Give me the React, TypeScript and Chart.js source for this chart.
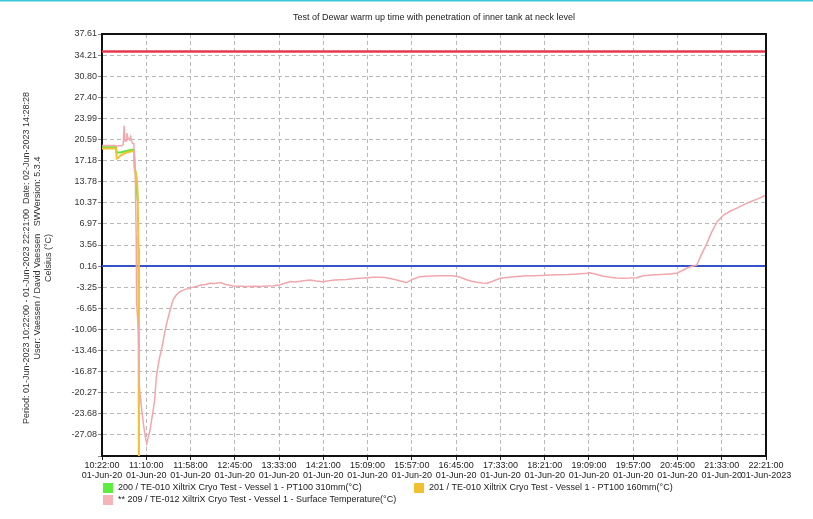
import React, { useEffect, useRef } from "react";
import { Chart, registerables } from "chart.js";

Chart.register(...registerables);

const TITLE = "Test of Dewar warm up time with penetration of inner tank at neck level";
const SIDE_LINES = [
  "Period: 01-Jun-2023 10:22:00 - 01-Jun-2023 22:21:00  Date: 02-Jun-2023 14:28:28",
  "User: Vaessen / David Vaessen   SWVersion: 5.3.4",
  "Celsius (°C)",
];

const TIME_LABELS = [
  "10:22:00", "11:10:00", "11:58:00", "12:45:00", "13:33:00", "14:21:00", "15:09:00", "15:57:00",
  "16:45:00", "17:33:00", "18:21:00", "19:09:00", "19:57:00", "20:45:00", "21:33:00", "22:21:00",
];
const DATE_LABELS = [
  "01-Jun-20", "01-Jun-20", "01-Jun-20", "01-Jun-20", "01-Jun-20", "01-Jun-20", "01-Jun-20", "01-Jun-20",
  "01-Jun-20", "01-Jun-20", "01-Jun-20", "01-Jun-20", "01-Jun-20", "01-Jun-20", "01-Jun-20", "01-Jun-2023",
];
const SPAN_MIN = 719; // minutes from 10:22:00 to 22:21:00

const Y_TICK_LABELS = [
  "37.61", "34.21", "30.80", "27.40", "23.99", "20.59", "17.18", "13.78", "10.37", "6.97",
  "3.56", "0.16", "-3.25", "-6.65", "-10.06", "-13.46", "-16.87", "-20.27", "-23.68", "-27.08",
];
const Y_MIN = -30.49;
const Y_MAX = 37.61;

const HIGH_LIMIT = 34.8;
const LOW_LIMIT = 0.16;

const LABEL_200 = "200 / TE-010 XiltriX Cryo Test - Vessel 1 - PT100 310mm(°C)";
const LABEL_201 = "201 / TE-010 XiltriX Cryo Test - Vessel 1 - PT100 160mm(°C)";
const LABEL_209 = "** 209 / TE-012 XiltriX Cryo Test - Vessel 1 - Surface Temperature(°C)";

// minutes since 10:22:00
const T_200 = [0, 15, 16, 20, 25, 30, 34.5, 35.5, 36.5, 37.5, 38.5, 39];
const V_200 = [19.35, 19.35, 18.5, 18.5, 18.7, 18.85, 18.95, 16.0, 15.2, 12.5, 11.0, 10.6];

const T_201 = [0, 15, 16, 17.5, 20, 25, 30, 34.5, 35.5, 36.5, 37.5, 38.5, 39.5, 40];
const V_201 = [19.15, 19.15, 17.5, 17.6, 18.0, 18.4, 18.6, 18.75, 15.6, 15.2, 14.5, 12.5, 3.0, -45];

const T_209 = [
  0, 14, 16, 22, 23, 24, 25, 26, 27, 28, 29, 30, 31, 32, 33, 34.5,
  36, 37, 37.5, 38.5, 39.5, 40, 40.5, 41.5, 43, 45, 47, 48.5, 50, 52, 55, 57, 59, 62, 65, 68, 70,
  74, 77, 80, 84, 90, 95, 100, 106, 112, 117, 122, 128, 134, 142, 150, 157, 165, 172, 178, 185,
  192, 198, 204, 210, 218, 225, 232, 239, 246, 252, 258, 265, 272, 279, 286, 293, 300, 306, 312,
  318, 324, 330, 336, 344, 351, 358, 366, 373, 380, 387, 394, 400, 406, 412, 417, 423, 431, 438,
  446, 456, 466, 476, 485, 495, 505, 515, 525, 528, 535, 542, 550, 557, 564, 572, 579, 586, 595,
  605, 615, 622, 628, 633, 638, 644, 649, 655, 660, 666, 673, 680, 687, 694, 702, 710, 719,
];
const V_209 = [
  19.6, 19.6, 19.55, 19.6, 19.8, 22.8, 20.3, 20.4, 21.6, 20.8, 20.7, 20.5, 21.0, 20.4, 20.0, 19.9,
  15.0, 5.0, -5.8, -8.0, -10.5, -14.5, -19.3, -21.0, -23.0, -25.5, -27.5, -28.5, -27.5, -26.3, -23.5,
  -21.5, -17.5, -14.8, -12.9, -10.5, -9.1,
  -6.8, -5.3, -4.6, -4.0, -3.6, -3.4, -3.2, -2.95, -2.8, -2.6, -2.65, -2.5, -2.8, -3.05, -3.1, -3.15,
  -3.1, -3.15, -3.05, -3.0,
  -2.9, -2.6, -2.35, -2.4, -2.2, -2.1, -2.25, -2.35, -2.2, -2.1, -2.05, -2.0, -1.9, -1.82, -1.75,
  -1.66, -1.65, -1.7, -1.85,
  -2.05, -2.3, -2.5, -2.0, -1.55, -1.5, -1.44, -1.42, -1.4, -1.39, -1.6, -2.0, -2.3, -2.46, -2.58,
  -2.62, -2.3, -1.82, -1.7,
  -1.55, -1.44, -1.4, -1.35, -1.28, -1.25, -1.2, -1.1, -1.01, -0.91, -1.15, -1.44, -1.65, -1.78,
  -1.82, -1.78, -1.72, -1.39, -1.3,
  -1.2, -1.1, -1.01, -0.6, -0.2, 0.1, 0.33, 2.0, 3.83, 5.6, 7.3, 8.4, 9.0, 9.48, 10.0, 10.55, 11.0, 11.6,
];

const FONT = "'Liberation Sans', Arial, sans-serif";

const COLOR_200 = "#62e23e";
const COLOR_201 = "#f2c232";
const COLOR_209 = "#f3a7ad";

const toPoints = (ts: number[], vs: number[]) => ts.map((t, i) => ({ x: t, y: vs[i] }));

const decorPlugin = {
  id: "decor",
  beforeDraw(chart: any) {
    const { ctx, width } = chart;
    ctx.save();
    ctx.fillStyle = "#ffffff";
    ctx.fillRect(0, 0, width, chart.height);
    ctx.fillStyle = "#3cc6d8";
    ctx.fillRect(0, 0, width, 1.5);
    ctx.restore();
  },
  afterDraw(chart: any) {
    const { ctx, chartArea } = chart;
    ctx.save();
    // frame top/right
    ctx.strokeStyle = "#111";
    ctx.lineWidth = 2;
    ctx.beginPath();
    ctx.moveTo(chartArea.left, chartArea.top);
    ctx.lineTo(chartArea.right, chartArea.top);
    ctx.lineTo(chartArea.right, chartArea.bottom);
    ctx.stroke();

    // title, centred over the plot area
    ctx.fillStyle = "#222";
    ctx.font = `9px ${FONT}`;
    ctx.textAlign = "center";
    ctx.textBaseline = "middle";
    ctx.fillText(TITLE, (chartArea.left + chartArea.right) / 2, 18);

    // side rotated text
    ctx.fillStyle = "#333";
    const xs = [27, 38, 49];
    SIDE_LINES.forEach((line, i) => {
      ctx.save();
      ctx.translate(xs[i], 258);
      ctx.rotate(-Math.PI / 2);
      ctx.fillText(line, 0, 0);
      ctx.restore();
    });

    // legend
    const items = chart.data.datasets.filter((d: any) => d.inLegend);
    const slots = [
      [103, 483],
      [414, 483],
      [103, 495],
    ];
    ctx.textAlign = "left";
    items.forEach((d: any, i: number) => {
      const [x, y] = slots[i];
      ctx.fillStyle = d.legendColor;
      ctx.fillRect(x, y, 10, 10);
      ctx.fillStyle = "#222";
      ctx.fillText(d.label, x + 15, y + 5);
    });
    ctx.restore();
  },
};

export default function App() {
  const ref = useRef<HTMLCanvasElement | null>(null);

  useEffect(() => {
    if (!ref.current) return;
    const chart = new Chart(ref.current, {
      type: "line",
      data: {
        datasets: [
          {
            label: LABEL_200,
            data: toPoints(T_200, V_200),
            borderColor: COLOR_200,
            borderWidth: 2,
            pointRadius: 0,
            order: 3,
            inLegend: true,
            legendColor: "#5cee3c",
          } as any,
          {
            label: LABEL_201,
            data: toPoints(T_201, V_201),
            borderColor: COLOR_201,
            borderWidth: 2,
            pointRadius: 0,
            order: 2,
            inLegend: true,
            legendColor: "#f0c030",
          } as any,
          {
            label: LABEL_209,
            data: toPoints(T_209, V_209),
            borderColor: COLOR_209,
            borderWidth: 1.5,
            pointRadius: 0,
            order: 1,
            inLegend: true,
            legendColor: "#f4b4ba",
          } as any,
          {
            label: "high limit",
            data: [
              { x: 0, y: HIGH_LIMIT },
              { x: SPAN_MIN, y: HIGH_LIMIT },
            ],
            borderColor: "#e63a4c",
            borderWidth: 2.5,
            pointRadius: 0,
            order: 10,
          },
          {
            label: "low limit",
            data: [
              { x: 0, y: LOW_LIMIT },
              { x: SPAN_MIN, y: LOW_LIMIT },
            ],
            borderColor: "#3552c8",
            borderWidth: 2,
            pointRadius: 0,
            order: 10,
          },
        ],
      },
      options: {
        animation: false,
        responsive: false,
        devicePixelRatio: 1,
        layout: { padding: { left: 0, right: 47, top: 34, bottom: 33 } },
        plugins: {
          legend: { display: false },
          tooltip: { enabled: false },
          title: { display: false },
        },
        scales: {
          x: {
            type: "linear",
            min: 0,
            max: SPAN_MIN,
            afterFit: (s: any) => {
              s.height = 30;
            },
            afterBuildTicks: (s: any) => {
              s.ticks = TIME_LABELS.map((_, i) => ({
                value: (i * SPAN_MIN) / (TIME_LABELS.length - 1),
              }));
            },
            ticks: {
              autoSkip: false,
              maxRotation: 0,
              minRotation: 0,
              padding: 1,
              color: "#222",
              font: { size: 9, family: FONT, lineHeight: 1.1 },
              callback: (_v: any, i: number) => [TIME_LABELS[i], DATE_LABELS[i]],
            },
            grid: {
              color: "#b8b8b8",
              lineWidth: 1,
              tickLength: 4,
              tickColor: "#222",
              borderDash: [4, 3],
            } as any,
            border: { display: true, color: "#111", width: 2, dash: [4, 3] },
          },
          y: {
            type: "linear",
            min: Y_MIN,
            max: Y_MAX,
            afterFit: (s: any) => {
              s.width = 102;
            },
            afterBuildTicks: (s: any) => {
              s.ticks = [...Y_TICK_LABELS.map((l) => ({ value: parseFloat(l) })), { value: Y_MIN }];
            },
            ticks: {
              autoSkip: false,
              padding: 1,
              color: "#333",
              font: { size: 9, family: FONT },
              callback: (_v: any, i: number) => (Y_TICK_LABELS[i] !== undefined ? Y_TICK_LABELS[i] : ""),
            },
            grid: {
              color: "#b8b8b8",
              lineWidth: 1,
              tickLength: 4,
              tickColor: "#888",
              borderDash: [4, 3],
            } as any,
            border: { display: true, color: "#111", width: 2, dash: [4, 3] },
          },
        },
      } as any,
      plugins: [decorPlugin],
    });
    return () => chart.destroy();
  }, []);

  return (
    <div style={{ position: "fixed", left: 0, top: 0, width: 813, height: 519, background: "#fff" }}>
      <canvas ref={ref} width={813} height={519} />
    </div>
  );
}
